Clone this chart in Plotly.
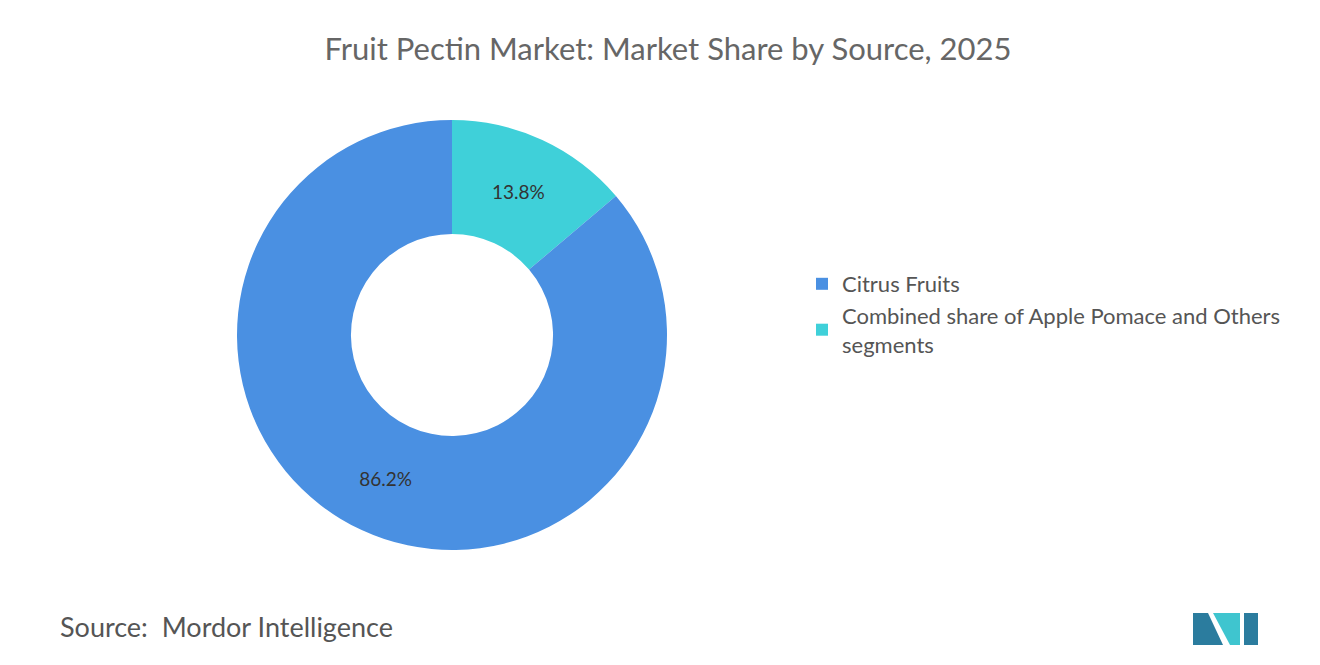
import plotly.graph_objects as go

labels = ["Citrus Fruits", "Combined share of Apple Pomace and Others<br>segments"]
values = [86.2, 13.8]
colors = ["#4A90E2", "#3FD0D9"]

W, H = 1320, 665
cx, cy, r = 444, 327, 215
fig = go.Figure(go.Pie(
    labels=labels[::-1], values=values[::-1], hole=0.47, sort=False, direction="clockwise",
    marker=dict(colors=colors[::-1]),
    texttemplate="%{value:.1f}%", textposition="inside",
    insidetextfont=dict(color="#333333", size=19, family="Lato"),
    domain=dict(x=[(cx - r) / W, (cx + r) / W], y=[(H - cy - r) / H, (H - cy + r) / H]),
))
ox, oy = -8, -7
def P(x, y):
    return f"{(x + ox)/W},{1-(y + oy)/H}"
fig.update_layout(
    width=W, height=H, margin=dict(l=0, r=0, t=0, b=0),
    paper_bgcolor="white", font=dict(family="Lato", color="#555555"),
    title=dict(text="Fruit Pectin Market: Market Share by Source, 2025", x=0.5, xanchor="center",
               y=1 - 41 / H, yanchor="middle", font=dict(size=31, color="#666666", family="Lato")),
    legend=dict(x=794 / W, y=1 - 255 / H, xanchor="left", yanchor="top",
                font=dict(size=22, color="#555555", family="Lato"), traceorder="reversed",
                itemsizing="constant"),
    annotations=[dict(text="Source:  Mordor Intelligence", x=50 / W, y=1 - 618 / H, xref="paper", yref="paper",
                      xanchor="left", yanchor="middle", showarrow=False,
                      font=dict(size=27, color="#555555", family="Lato"))],
    shapes=[
        dict(type="path", xref="paper", yref="paper", fillcolor="#2B7C9E", line_width=0,
             path=f"M {P(1193,644)} L {P(1193,612)} L {P(1208,612)} L {P(1223,644)} Z"),
        dict(type="path", xref="paper", yref="paper", fillcolor="#3FC5CF", line_width=0,
             path=f"M {P(1213,612)} L {P(1230,644)} L {P(1240,644)} L {P(1240,612)} Z"),
        dict(type="path", xref="paper", yref="paper", fillcolor="#2B7C9E", line_width=0,
             path=f"M {P(1244,612)} L {P(1258,612)} L {P(1258,644)} L {P(1244,644)} Z"),
    ],
)
fig.write_html("out.html")
